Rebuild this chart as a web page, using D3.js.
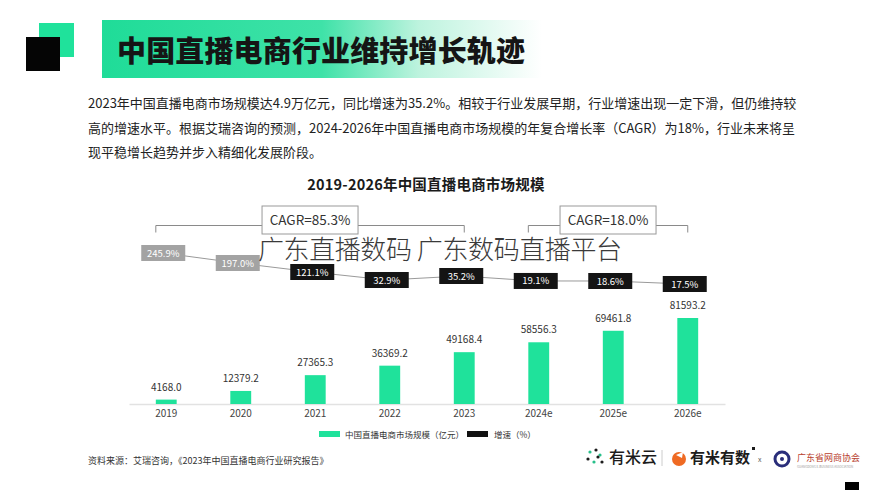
<!DOCTYPE html>
<html><head><meta charset="utf-8">
<script src="https://cdn.jsdelivr.net/npm/d3@7/dist/d3.min.js"></script>
<style>
html,body{margin:0;padding:0;background:#fff;}
svg{display:block;font-family:"Noto Sans CJK SC","Noto Sans",sans-serif;}
</style></head>
<body><svg id="c" width="879" height="490"></svg>
<script>
const years = ["2019","2020","2021","2022","2023","2024e","2025e","2026e"];
const marketSize = [4168.0, 12379.2, 27365.3, 36369.2, 49168.4, 58556.3, 69461.8, 81593.2];
const growthRate = [245.9, 197.0, 121.1, 32.9, 35.2, 19.1, 18.6, 17.5];
const cagrLabels = ["CAGR=85.3%", "CAGR=18.0%"];
const cagrStart = ["2019", "2024e"];
const cagrEnd = ["2023", "2026e"];
const legendLabels = ["中国直播电商市场规模（亿元）", "增速（%）"];
const pageTitle = "中国直播电商行业维持增长轨迹";
const chartTitle = "2019-2026年中国直播电商市场规模";
const paragraph = [
  "2023年中国直播电商市场规模达4.9万亿元，同比增速为35.2%。相较于行业发展早期，行业增速出现一定下滑，但仍维持较",
  "高的增速水平。根据艾瑞咨询的预测，2024-2026年中国直播电商市场规模的年复合增长率（CAGR）为18%，行业未来将呈",
  "现平稳增长趋势并步入精细化发展阶段。"
];
const sourceText = "资料来源：艾瑞咨询，《2023年中国直播电商行业研究报告》";
const watermark = "广东直播数码 广东数码直播平台";

const GREEN = "#1fe29b";
const svg = d3.select("#c");
const defs = svg.append("defs");
const grad = defs.append("linearGradient").attr("id","bannerGrad").attr("x1","0").attr("x2","1").attr("y1","0").attr("y2","0");
grad.append("stop").attr("offset","0").attr("stop-color","#1fdc98");
grad.append("stop").attr("offset","0.5").attr("stop-color","#3fe2a8");
grad.append("stop").attr("offset","0.72").attr("stop-color","#bdf3de");
grad.append("stop").attr("offset","1").attr("stop-color","#ffffff");

// Header
svg.append("rect").attr("x",102).attr("y",20).attr("width",440).attr("height",58).attr("fill","url(#bannerGrad)");
svg.append("rect").attr("x",39).attr("y",23).attr("width",35).attr("height",34).attr("fill",GREEN);
svg.append("rect").attr("x",26).attr("y",37).attr("width",34).attr("height",34).attr("fill","#050505");
svg.append("text").attr("x",117).attr("y",62).attr("font-size",29).attr("font-weight",900)
  .attr("fill","#151515").attr("textLength",408).text(pageTitle);

// Paragraph
paragraph.forEach((t,i)=>{
  svg.append("text").attr("x",88).attr("y",108+i*24.5).attr("font-size",13).attr("fill","#222").text(t);
});

// Chart title
svg.append("text").attr("x",426).attr("y",190).attr("text-anchor","middle").attr("font-size",14.5)
  .attr("font-weight",700).attr("fill","#1a1a1a").attr("letter-spacing",0.2).text(chartTitle);

// Scales
const x = d3.scaleBand().domain(years).range([129,725]).paddingInner(0.72).paddingOuter(0.36);
const y = d3.scaleLinear().domain([0, 81593.2]).range([404, 318]);
const gy = d3.scaleLinear().domain([17.5, 18.6, 32.9, 35.2, 121.1, 197.0, 245.9])
  .range([284, 281, 280, 276, 272, 263, 253]);
const cx = d => x(d) + x.bandwidth()/2;

// Axis baseline
const xAxis = d3.axisBottom(x).tickSize(0).tickPadding(6);
const ax = svg.append("g").attr("transform","translate(0,404)").call(xAxis);
ax.select(".domain").attr("stroke","#e2e2e2").attr("stroke-width",1.5);
ax.selectAll("text").attr("font-family","Noto Sans CJK SC, Noto Sans, sans-serif").attr("font-size",10).attr("fill","#444");

// Bars
svg.append("g").selectAll("rect").data(marketSize).join("rect")
  .attr("x",(d,i)=>x(years[i])).attr("width",x.bandwidth())
  .attr("y",d=>y(d)).attr("height",d=>404-y(d)).attr("fill",GREEN);
svg.append("g").selectAll("text").data(marketSize).join("text")
  .attr("x",(d,i)=>cx(years[i])).attr("y",d=>y(d)-9).attr("text-anchor","middle")
  .attr("font-size",10).attr("fill","#333").text(d=>d.toFixed(1));

// CAGR brackets
cagrLabels.forEach((lab,i)=>{
  const x0 = x(cagrStart[i]);
  const x1 = x(cagrEnd[i]) + x.bandwidth()*0.5;
  const by = 225.5;
  svg.append("path").attr("d",`M${x0},${by+7}V${by}H${x1}V${by+7}`)
    .attr("fill","none").attr("stroke","#8a8a8a").attr("stroke-width",1);
  const mid = (x0+x1)/2;
  const w = 96;
  svg.append("rect").attr("x",mid-w/2).attr("y",206).attr("width",w).attr("height",28)
    .attr("fill","#fff").attr("stroke","#999").attr("stroke-width",1);
  svg.append("text").attr("x",mid).attr("y",224.5).attr("text-anchor","middle")
    .attr("font-size",13.5).attr("fill","#333").text(lab);
});

// Growth line and labels
const line = d3.line().x((d,i)=>cx(years[i])-3).y(d=>gy(d));
svg.append("path").datum(growthRate).attr("d",line).attr("fill","none").attr("stroke","#9a9a9a").attr("stroke-width",1);
const gg = svg.append("g").selectAll("g").data(growthRate).join("g")
  .attr("transform",(d,i)=>`translate(${cx(years[i])-3},${gy(d)})`);
gg.append("rect").attr("x",-22).attr("y",-8).attr("width",44).attr("height",16)
  .attr("fill",(d,i)=> i<2 ? "#a3a3a3" : "#141414");
gg.append("text").attr("y",3.5).attr("text-anchor","middle").attr("font-size",9.5)
  .attr("fill","#fff").text(d=>d.toFixed(1)+"%");

// Watermark
svg.append("text").attr("x",258).attr("y",258.5).attr("font-size",26).attr("font-weight",300)
  .attr("fill","#3a3a3a").attr("textLength",364).text(watermark);

// Legend
svg.append("rect").attr("x",319).attr("y",431).attr("width",21).attr("height",6).attr("fill",GREEN);
svg.append("text").attr("x",345).attr("y",437.5).attr("font-size",8.5).attr("fill","#333").text(legendLabels[0]);
svg.append("rect").attr("x",467).attr("y",431).attr("width",21).attr("height",6).attr("fill","#111");
svg.append("text").attr("x",494).attr("y",437.5).attr("font-size",8.5).attr("fill","#333").text(legendLabels[1]);

// Footer
svg.append("text").attr("x",88).attr("y",464).attr("font-size",9).attr("fill","#333").text(sourceText);

// Logos
const logo = svg.append("g");
[[590,452,"#27c08a"],[596,450,"#1c1c1c"],[600,455,"#27c08a"],[588,459,"#1c1c1c"],[594,462,"#27c08a"],[602,462,"#1c1c1c"],[598,457,"#1c1c1c"]].forEach(p=>{
  logo.append("circle").attr("cx",p[0]).attr("cy",p[1]).attr("r",1.6).attr("fill",p[2]);
});
logo.append("text").attr("x",609).attr("y",463).attr("font-size",16).attr("font-weight",500).attr("fill","#1c1c1c").text("有米云");
logo.append("line").attr("x1",662).attr("x2",662).attr("y1",450).attr("y2",466).attr("stroke","#ccc");
logo.append("circle").attr("cx",679).attr("cy",459).attr("r",7).attr("fill","#ef6a23");
logo.append("path").attr("d","M676,455 L683,452 L682,458 Z").attr("fill","#fff");
logo.append("text").attr("x",690).attr("y",463).attr("font-size",15).attr("font-weight",700).attr("fill","#1c1c1c").text("有米有数");
logo.append("rect").attr("x",752).attr("y",447).attr("width",3).attr("height",3).attr("fill","#1c1c1c");
logo.append("text").attr("x",758).attr("y",462).attr("font-size",7).attr("fill","#555").text("x");
logo.append("circle").attr("cx",782).attr("cy",459).attr("r",7).attr("fill","none").attr("stroke","#2a2e7a").attr("stroke-width",3);
logo.append("circle").attr("cx",782).attr("cy",459).attr("r",2).attr("fill","#2a2e7a");
logo.append("text").attr("x",797).attr("y",461).attr("font-size",9).attr("fill","#b8402e").text("广东省网商协会");
logo.append("text").attr("x",797).attr("y",468).attr("font-size",3).attr("fill","#999").text("GUANGDONG E-BUSINESS ASSOCIATION");
svg.append("rect").attr("x",845).attr("y",482).attr("width",14).attr("height",8).attr("fill","#000");
</script></body></html>
